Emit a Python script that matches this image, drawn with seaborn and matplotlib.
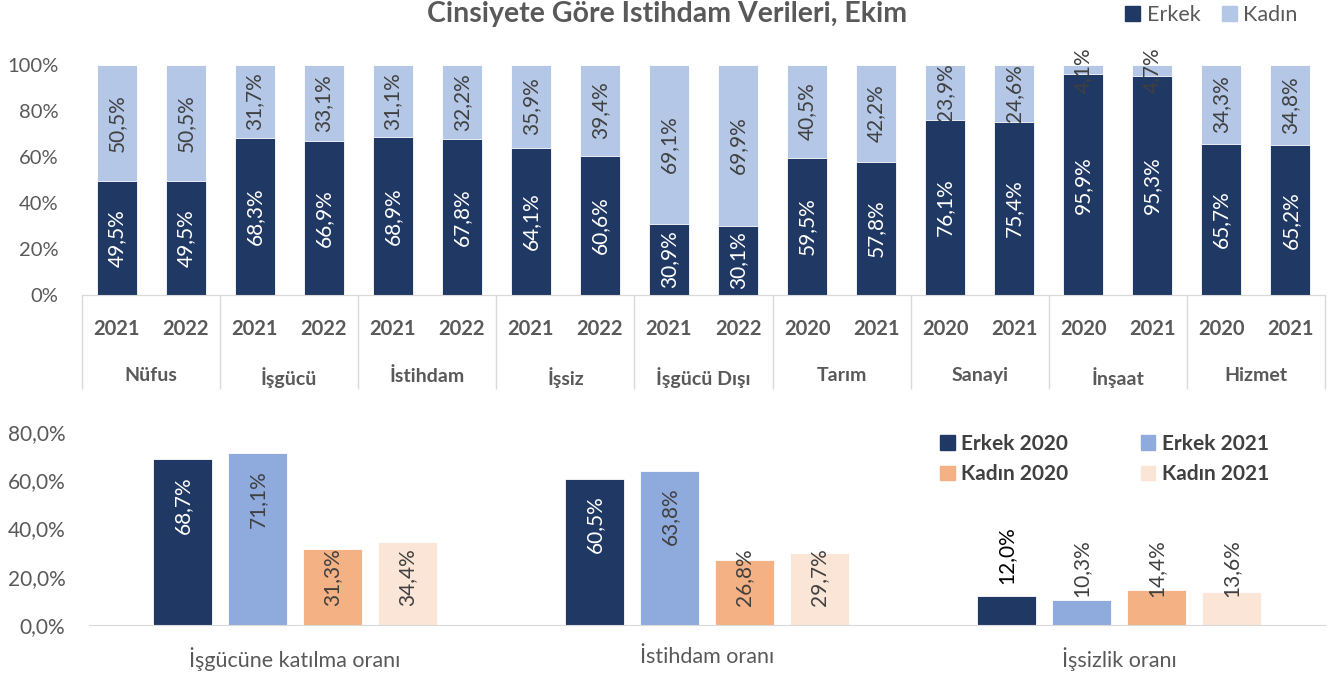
import matplotlib
matplotlib.use('Agg')
import matplotlib.pyplot as plt
from matplotlib.patches import Patch
import seaborn as sns
import pandas as pd

# --- ust panel: cinsiyete gore dagilim (%)
kategoriler = ['Nüfus', 'İşgücü', 'İstihdam', 'İşsiz', 'İşgücü Dışı',
               'Tarım', 'Sanayi', 'İnşaat', 'Hizmet']
yillar = [['2021', '2022']] * 5 + [['2020', '2021']] * 4
erkek = [49.5, 49.5, 68.3, 66.9, 68.9, 67.8, 64.1, 60.6, 30.9, 30.1,
         59.5, 57.8, 76.1, 75.4, 95.9, 95.3, 65.7, 65.2]
kadin = [50.5, 50.5, 31.7, 33.1, 31.1, 32.2, 35.9, 39.4, 69.1, 69.9,
         40.5, 42.2, 23.9, 24.6, 4.1, 4.7, 34.3, 34.8]

# --- alt panel: oranlar (%)
oranlar = ['İşgücüne katılma oranı', 'İstihdam oranı', 'İşsizlik oranı']
seriler = ['Erkek 2020', 'Erkek 2021', 'Kadın 2020', 'Kadın 2021']
erkek_2020 = [68.7, 60.5, 12.0]
erkek_2021 = [71.1, 63.8, 10.3]
kadin_2020 = [31.3, 26.8, 14.4]
kadin_2021 = [34.4, 29.7, 13.6]

ERKEK = '#203864'
KADIN = '#B4C7E7'
renkler = {'Erkek 2020': '#203864', 'Erkek 2021': '#8FAADC',
           'Kadın 2020': '#F4B183', 'Kadın 2021': '#FBE5D6'}
GRI = '#595959'
KOYU = '#404040'
CIZGI = '#D9D9D9'

sns.set_style('white')
plt.rcParams['font.family'] = ['Lato', 'DejaVu Sans']


def yuzde(v):
    return f'{v:.1f}'.replace('.', ',') + '%'


W, H = 1335, 673
fig = plt.figure(figsize=(W / 100, H / 100), dpi=100)

# ---------------- top panel
ax1 = fig.add_axes([82 / W, 1 - 295 / H, (1325 - 82) / W, 230 / H])

rows = []
for i, kat in enumerate(kategoriler):
    for j, yil in enumerate(yillar[i]):
        rows.append({'anahtar': f'{kat}|{yil}', 'yil': yil})
df = pd.DataFrame(rows)
df['erkek'] = erkek
df['kadin'] = kadin
df['toplam'] = df['erkek'] + df['kadin']
sira = list(df['anahtar'])

sns.barplot(data=df, x='anahtar', y='toplam', order=sira, color=KADIN, saturation=1,
            width=0.58, errorbar=None, edgecolor='white', linewidth=0.6, ax=ax1)
sns.barplot(data=df, x='anahtar', y='erkek', order=sira, color=ERKEK, saturation=1,
            width=0.58, errorbar=None, edgecolor='white', linewidth=0.6, ax=ax1)

for bar, e, k in zip(ax1.containers[1], erkek, kadin):
    x = bar.get_x() + bar.get_width() / 2
    ax1.text(x, e / 2, yuzde(e), rotation=90, ha='center', va='center',
             color='white', fontsize=15)
    ax1.text(x, e + k / 2, yuzde(k), rotation=90, ha='center', va='center',
             color=KOYU, fontsize=15)

ax1.set_xlim(-0.5, len(sira) - 0.5)
ax1.set_ylim(0, 100)
ax1.set_yticks(range(0, 101, 20))
ax1.set_yticklabels([f'{v}%' for v in range(0, 101, 20)])
ax1.tick_params(axis='y', length=0, pad=17, labelsize=14.5, labelcolor=GRI)
ax1.set_xticks(range(len(sira)))
ax1.set_xticklabels(df['yil'], fontweight='bold')
ax1.tick_params(axis='x', length=0, pad=17, labelsize=14.5, labelcolor=GRI)
ax1.set_xlabel('')
ax1.set_ylabel('')
for s in ['top', 'right', 'left']:
    ax1.spines[s].set_visible(False)
ax1.spines['bottom'].set_color(CIZGI)

# group separators and category labels
sec = ax1.secondary_xaxis('bottom')
sec.set_xticks([i - 0.5 for i in range(0, len(sira) + 1, 2)])
sec.set_xticklabels([])
sec.tick_params(length=68, width=1, color=CIZGI)
sec.spines['bottom'].set_color(CIZGI)

sec2 = ax1.secondary_xaxis('bottom')
sec2.set_xticks([i + 0.5 for i in range(0, len(sira), 2)])
sec2.set_xticklabels(kategoriler, fontweight='bold')
sec2.tick_params(length=0, pad=52, labelsize=14, labelcolor=GRI)
sec2.spines['bottom'].set_visible(False)

fig.text(0.5, 1 - 14 / H, 'Cinsiyete Göre Istihdam Verileri, Ekim', ha='center',
         va='center', fontsize=20.5, fontweight='bold', color=GRI)
fig.legend(handles=[Patch(color=ERKEK), Patch(color=KADIN)], labels=['Erkek', 'Kadın'],
           loc='center left', bbox_to_anchor=(1125 / W, 1 - 15 / H), ncol=2,
           frameon=False, fontsize=15.5, labelcolor=GRI, handlelength=0.7,
           handleheight=0.7, handletextpad=0.3, columnspacing=1.0,
           borderpad=0, borderaxespad=0)

# ---------------- bottom panel
ax2 = fig.add_axes([89 / W, 1 - 625 / H, (1325 - 89) / W, 193 / H])

df2 = pd.DataFrame({
    'oran': oranlar * 4,
    'seri': [s for s in seriler for _ in oranlar],
    'deger': erkek_2020 + erkek_2021 + kadin_2020 + kadin_2021,
})
sns.barplot(data=df2, x='oran', y='deger', hue='seri', order=oranlar, hue_order=seriler,
            palette=renkler, saturation=1, width=0.728, gap=0.225, errorbar=None,
            legend=False, edgecolor='white', linewidth=0.6, ax=ax2)

for ci, cont in enumerate(ax2.containers):
    for bar in cont:
        v = bar.get_height()
        x = bar.get_x() + bar.get_width() / 2
        renk = 'white' if ci == 0 else KOYU
        if v >= 40:
            # inside end
            ax2.annotate(yuzde(v), (x, v), xytext=(0, -12), textcoords='offset points',
                         rotation=90, ha='center', va='top', color=renk, fontsize=15)
        elif ci == 0:
            # outside end for the short dark bar
            ax2.annotate(yuzde(v), (x, v), xytext=(0, 9), textcoords='offset points',
                         rotation=90, ha='center', va='bottom', color='black', fontsize=15)
        else:
            ax2.annotate(yuzde(v), (x, 0), xytext=(0, 14 if v > 20 else 20),
                         textcoords='offset points', rotation=90, ha='center',
                         va='bottom', color=renk, fontsize=15)

ax2.set_xlim(-0.5, 2.5)
ax2.set_ylim(0, 80)
ax2.set_yticks(range(0, 81, 20))
ax2.set_yticklabels([yuzde(v) for v in range(0, 81, 20)])
ax2.tick_params(axis='y', length=0, pad=17, labelsize=15, labelcolor=GRI)
ax2.tick_params(axis='x', length=0, pad=16, labelsize=15.5, labelcolor=GRI)
ax2.set_xlabel('')
ax2.set_ylabel('')
for s in ['top', 'right', 'left']:
    ax2.spines[s].set_visible(False)
ax2.spines['bottom'].set_color(CIZGI)

sira_leg = ['Erkek 2020', 'Kadın 2020', 'Erkek 2021', 'Kadın 2021']
fig.legend(handles=[Patch(color=renkler[s]) for s in sira_leg], labels=sira_leg,
           loc='upper left', bbox_to_anchor=(940 / W, 1 - 434 / H), ncol=2,
           frameon=False, prop={'size': 15, 'weight': 'bold'}, labelcolor=KOYU,
           handlelength=0.7, handleheight=0.7, handletextpad=0.3,
           columnspacing=3.5, labelspacing=0.5, borderpad=0, borderaxespad=0)

fig.savefig('out.png', dpi=100)
